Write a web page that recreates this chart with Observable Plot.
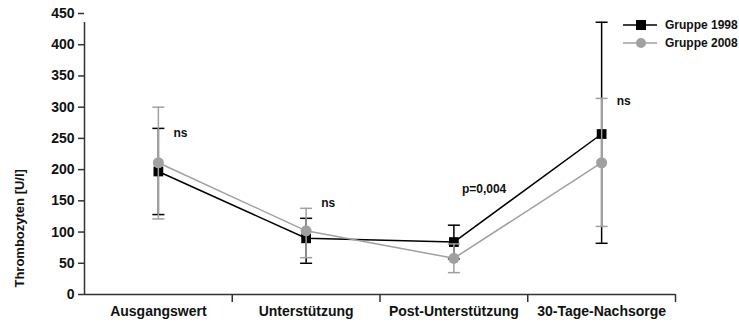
<!DOCTYPE html>
<html>
<head>
<meta charset="utf-8">
<script src="https://cdn.jsdelivr.net/npm/d3@7"></script>
<script src="https://cdn.jsdelivr.net/npm/@observablehq/plot@0.6"></script>
<style>
  html, body { margin: 0; padding: 0; background: #fff; }
  #wrap { position: relative; width: 739px; height: 325px; font-family: "Liberation Sans", Arial, sans-serif; }
  #legend { position: absolute; left: 623px; top: 16px; font-weight: bold; font-size: 12px; color: #111; }
  #legend div { display: flex; align-items: center; height: 18px; }
  #legend svg { margin-right: 8px; }
</style>
</head>
<body>
<div id="wrap"></div>
<script>
const categories = ["Ausgangswert", "Unterstützung", "Post-Unterstützung", "30-Tage-Nachsorge"];
const seriesNames = ["Gruppe 1998", "Gruppe 2008"];
const mean1998 = [197, 90, 84, 257];
const low1998 = [128, 50, 57, 82];
const high1998 = [266, 122, 111, 436];
const mean2008 = [211, 102, 58, 211];
const low2008 = [121, 59, 35, 109];
const high2008 = [300, 138, 81, 314];
const annoLabels = ["ns", "ns", "p=0,004", "ns"];
const annoY = [259, 147, 168, 309];
const yTicks = [0, 50, 100, 150, 200, 250, 300, 350, 400, 450];
const yLabel = "Thrombozyten [U/l]";
const yLabelAt = 106;

const colors = {"Gruppe 1998": "#000000", "Gruppe 2008": "#a0a0a0"};

const idx = categories.map((_, i) => i);
const rows1998 = idx.map(i => ({i, m: mean1998[i], lo: low1998[i], hi: high1998[i]}));
const rows2008 = idx.map(i => ({i, m: mean2008[i], lo: low2008[i], hi: high2008[i]}));
const annos = idx.map(i => ({i, t: annoLabels[i], y: annoY[i]}));

const capSymbol = {draw(ctx) { ctx.moveTo(-6, 0); ctx.lineTo(6, 0); }};

function series(rows, color, symbol, r) {
  return [
    Plot.ruleX(rows, {x: "i", y1: "lo", y2: "hi", stroke: color, strokeWidth: 1.5}),
    Plot.dot(rows, {x: "i", y: "lo", symbol: capSymbol, stroke: color, strokeWidth: 1.5, fill: "none"}),
    Plot.dot(rows, {x: "i", y: "hi", symbol: capSymbol, stroke: color, strokeWidth: 1.5, fill: "none"}),
    Plot.line(rows, {x: "i", y: "m", stroke: color, strokeWidth: 1.5}),
    Plot.dot(rows, {x: "i", y: "m", symbol, r, fill: color, stroke: "none"})
  ];
}

const chart = Plot.plot({
  width: 739,
  height: 325,
  marginLeft: 84,
  marginRight: 64,
  marginTop: 13,
  marginBottom: 31,
  style: {fontFamily: "Liberation Sans, Arial, sans-serif", fontWeight: "bold", fontSize: "14px", color: "#111", background: "white"},
  x: {type: "linear", domain: [-0.5, categories.length - 0.5]},
  y: {domain: [0, 450]},
  marks: [
    Plot.axisY({ticks: yTicks, tickSize: 6, tickPadding: 4, label: null, stroke: "#333", strokeWidth: 1.5}),
    Plot.axisX({ticks: idx.map(i => i + 0.5), tickSize: 8, tickFormat: () => "", label: null, stroke: "#333", strokeWidth: 1.5}),
    Plot.axisX({ticks: idx, tickSize: 0, tickPadding: 12, tickFormat: i => categories[i], label: null}),
    Plot.ruleX([-0.5], {y1: 0, y2: 450, stroke: "#333", strokeWidth: 1.5, insetBottom: -9}),
    Plot.ruleY([0], {x1: -0.5, x2: categories.length - 0.5, stroke: "#333", strokeWidth: 1.5}),
    Plot.text([yLabel], {x: -0.5, y: [yLabelAt], rotate: -90, dx: -65, fontSize: 13, fontWeight: "bold", fill: "#111"}),
    ...series(rows1998, colors["Gruppe 1998"], "square", 5.5),
    ...series(rows2008, colors["Gruppe 2008"], "circle", 5.5),
    Plot.text(annos.filter(d => d.t === "ns"), {x: "i", y: "y", text: "t", dx: 15, textAnchor: "start", fontSize: 12, fontWeight: "bold", fill: "#111"}),
    Plot.text(annos.filter(d => d.t !== "ns"), {x: "i", y: "y", text: "t", dx: 8, textAnchor: "start", fontSize: 12, fontWeight: "bold", fill: "#111"})
  ]
});

document.getElementById("wrap").appendChild(chart);

const legend = document.createElement("div");
legend.id = "legend";
const shapes = {"Gruppe 1998": `<rect x="13" y="4" width="10" height="10" fill="#000"/>`, "Gruppe 2008": `<circle cx="18" cy="9" r="5" fill="#a0a0a0"/>`};
seriesNames.forEach(name => {
  const row = document.createElement("div");
  row.innerHTML = `<svg width="34" height="18"><line x1="0" y1="9" x2="34" y2="9" stroke="${colors[name]}" stroke-width="1.5"/>${shapes[name]}</svg><span>${name}</span>`;
  legend.appendChild(row);
});
document.getElementById("wrap").appendChild(legend);
</script>
</body>
</html>
